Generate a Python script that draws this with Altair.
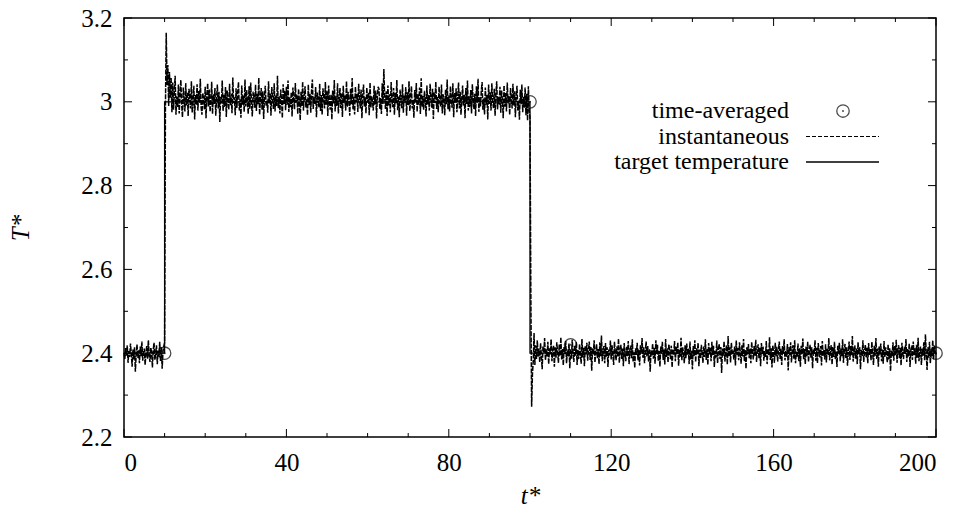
import altair as alt
import pandas as pd

FONT = "Liberation Serif"

# ---------------- data ----------------
# instantaneous temperature, sampled every 0.2 time units
seg1_start = 0.0
seg1_T = [
    2.401, 2.386, 2.412, 2.394, 2.419, 2.377, 2.405, 2.391, 2.423, 2.398,
    2.368, 2.409, 2.385, 2.414, 2.356, 2.397, 2.421, 2.389, 2.407, 2.376,
    2.416, 2.393, 2.428, 2.382, 2.404, 2.411, 2.372, 2.399, 2.418, 2.387,
    2.431, 2.395, 2.379, 2.413, 2.402, 2.366, 2.408, 2.425, 2.384, 2.397,
    2.419, 2.374, 2.406, 2.392, 2.427, 2.381, 2.414, 2.363, 2.403, 2.417,
]
seg2_start = 10.0
seg2_T = [
    2.425, 2.980, 3.165, 3.040, 3.088, 2.990, 3.071, 3.010, 3.058, 2.975,
    3.046, 2.981, 3.027, 3.062, 2.969, 3.013, 2.988, 3.041, 2.972, 3.019,
    3.052, 2.994, 2.963, 3.034, 3.008, 2.977, 3.045, 2.991, 3.023, 2.966,
    3.031, 3.011, 2.984, 3.049, 2.974, 3.003, 3.038, 2.958, 3.016, 2.993,
    3.042, 2.979, 3.026, 2.998, 3.055, 2.986, 2.969, 3.021, 3.007, 2.982,
    3.036, 2.961, 3.014, 3.044, 2.989, 3.029, 2.976, 3.002, 3.048, 2.971,
    3.018, 2.995, 3.033, 2.967, 3.009, 3.041, 2.984, 3.024, 2.952, 3.012,
    2.996, 3.051, 2.978, 3.017, 2.988, 3.035, 2.964, 3.027, 3.005, 2.981,
    3.043, 2.992, 3.019, 2.973, 3.058, 2.997, 3.011, 2.968, 3.032, 2.985,
    3.022, 3.047, 2.979, 3.006, 2.962, 3.039, 2.993, 3.015, 2.976, 3.053,
    2.989, 3.028, 3.001, 2.971, 3.037, 2.983, 3.046, 2.997, 2.965, 3.024,
    3.012, 2.986, 3.041, 2.978, 3.019, 2.994, 3.057, 2.969, 3.008, 3.033,
    2.981, 3.025, 2.959, 3.014, 3.038, 2.991, 3.003, 2.974, 3.049, 2.996,
    3.021, 2.967, 3.035, 3.009, 2.983, 3.044, 2.977, 3.016, 2.990, 3.062,
    2.985, 3.013, 2.972, 3.029, 3.004, 2.961, 3.042, 2.995, 3.026, 2.980,
    3.036, 2.993, 3.051, 2.976, 3.011, 2.987, 3.023, 2.965, 3.034, 3.007,
    2.982, 3.045, 2.998, 3.017, 2.971, 3.031, 3.002, 2.956, 3.024, 2.989,
    3.048, 2.979, 3.014, 3.037, 2.986, 3.006, 2.968, 3.041, 2.992, 3.019,
    2.974, 3.028, 3.053, 2.983, 3.011, 2.995, 3.035, 2.963, 3.022, 3.004,
    2.987, 3.043, 2.978, 3.016, 2.969, 3.032, 3.009, 2.984, 3.047, 2.993,
    3.025, 2.966, 3.039, 3.001, 2.981, 3.018, 2.958, 3.027, 2.996, 3.052,
    2.977, 3.013, 2.990, 3.044, 2.972, 3.008, 3.033, 2.985, 3.021, 2.964,
    3.038, 2.997, 3.015, 2.979, 3.049, 2.988, 3.024, 3.003, 2.967, 3.031,
    2.994, 3.057, 2.982, 3.012, 2.970, 3.036, 2.999, 3.019, 2.976, 3.043,
    3.006, 2.984, 3.029, 2.961, 3.017, 3.041, 2.989, 3.011, 2.973, 3.034,
    2.998, 3.022, 2.968, 3.046, 2.986, 3.014, 3.001, 2.979, 3.038, 2.993,
    3.027, 2.960, 3.016, 3.036, 3.031, 2.982, 3.009, 2.971, 3.044, 2.995,
    3.078, 3.012, 2.983, 3.025, 2.966, 3.039, 2.991, 3.018, 2.975, 3.047,
    3.004, 2.987, 3.033, 2.969, 3.021, 2.996, 3.052, 2.980, 3.013, 2.963,
    3.029, 3.007, 2.985, 3.042, 2.974, 3.016, 2.998, 3.035, 2.967, 3.023,
    2.992, 3.049, 2.978, 3.011, 3.037, 2.984, 3.005, 2.962, 3.028, 2.999,
    3.045, 2.976, 3.019, 2.993, 3.034, 2.971, 3.056, 2.988, 3.014, 2.981,
    3.026, 3.003, 2.965, 3.039, 2.994, 3.017, 2.979, 3.043, 3.008, 2.986,
    3.031, 2.959, 3.022, 2.997, 3.048, 2.983, 3.012, 2.975, 3.036, 3.001,
    2.989, 3.041, 2.972, 3.018, 3.006, 2.968, 3.029, 2.994, 3.053, 2.982,
    3.015, 2.977, 3.037, 3.002, 2.986, 3.044, 2.963, 3.021, 2.998, 3.032,
    2.975, 3.011, 3.046, 2.984, 3.024, 2.969, 3.007, 3.039, 2.991, 3.017,
    2.961, 3.033, 2.995, 3.051, 2.979, 3.013, 2.987, 3.028, 2.972, 3.042,
    3.004, 2.983, 3.019, 2.966, 3.037, 2.998, 3.055, 2.976, 3.011, 2.989,
    3.026, 3.047, 2.981, 3.008, 2.970, 3.034, 2.993, 3.016, 2.958, 3.041,
    2.995, 3.023, 2.979, 3.044, 3.002, 2.985, 3.031, 2.967, 3.018, 3.049,
    2.982, 3.012, 2.993, 3.036, 2.974, 3.027, 3.005, 2.961, 3.039, 2.988,
    3.021, 2.977, 3.046, 2.996, 3.014, 2.969, 3.033, 3.008, 2.984, 3.043,
    2.991, 3.025, 2.963, 3.017, 3.038, 2.979, 3.003, 2.957, 3.029, 2.994,
    3.041, 2.975, 3.012, 2.986, 3.034, 2.968, 3.019, 2.955, 3.037, 2.981,
]
seg3_start = 100.0
seg3_T = [
    2.962, 2.550, 2.272, 2.350, 2.381, 2.448, 2.372, 2.419, 2.386, 2.431,
    2.392, 2.411, 2.378, 2.424, 2.395, 2.362, 2.417, 2.401, 2.436, 2.383,
    2.409, 2.391, 2.427, 2.374, 2.412, 2.397, 2.433, 2.381, 2.406, 2.418,
    2.368, 2.414, 2.389, 2.426, 2.402, 2.377, 2.421, 2.393, 2.438, 2.385,
    2.410, 2.371, 2.416, 2.398, 2.429, 2.376, 2.405, 2.392, 2.423, 2.364,
    2.411, 2.387, 2.432, 2.399, 2.379, 2.419, 2.394, 2.427, 2.372, 2.408,
    2.386, 2.422, 2.401, 2.375, 2.434, 2.390, 2.413, 2.369, 2.418, 2.397,
    2.425, 2.382, 2.407, 2.428, 2.384, 2.415, 2.358, 2.412, 2.396, 2.431,
    2.378, 2.404, 2.421, 2.388, 2.410, 2.374, 2.426, 2.393, 2.442, 2.381,
    2.403, 2.417, 2.376, 2.424, 2.391, 2.414, 2.367, 2.409, 2.395, 2.430,
    2.385, 2.419, 2.398, 2.372, 2.427, 2.402, 2.383, 2.416, 2.391, 2.435,
    2.377, 2.408, 2.420, 2.386, 2.411, 2.369, 2.424, 2.399, 2.381, 2.415,
    2.393, 2.429, 2.374, 2.406, 2.418, 2.388, 2.433, 2.379, 2.402, 2.365,
    2.412, 2.396, 2.425, 2.383, 2.409, 2.371, 2.419, 2.401, 2.436, 2.389,
    2.414, 2.376, 2.403, 2.428, 2.392, 2.417, 2.380, 2.411, 2.356, 2.407,
    2.394, 2.423, 2.387, 2.413, 2.375, 2.431, 2.398, 2.420, 2.382, 2.405,
    2.368, 2.416, 2.399, 2.427, 2.384, 2.409, 2.373, 2.434, 2.391, 2.412,
    2.378, 2.421, 2.404, 2.386, 2.418, 2.366, 2.410, 2.395, 2.429, 2.381,
    2.415, 2.397, 2.426, 2.370, 2.408, 2.392, 2.437, 2.383, 2.414, 2.401,
    2.376, 2.419, 2.388, 2.423, 2.396, 2.411, 2.374, 2.428, 2.385, 2.406,
    2.362, 2.417, 2.393, 2.431, 2.379, 2.412, 2.398, 2.425, 2.369, 2.409,
    2.387, 2.420, 2.402, 2.377, 2.416, 2.391, 2.433, 2.384, 2.410, 2.372,
    2.424, 2.397, 2.413, 2.381, 2.427, 2.395, 2.418, 2.367, 2.405, 2.389,
    2.430, 2.376, 2.409, 2.422, 2.386, 2.415, 2.353, 2.411, 2.394, 2.428,
    2.380, 2.403, 2.419, 2.373, 2.441, 2.392, 2.414, 2.378, 2.425, 2.398,
    2.406, 2.385, 2.417, 2.371, 2.430, 2.396, 2.412, 2.383, 2.426, 2.401,
    2.375, 2.419, 2.392, 2.434, 2.381, 2.408, 2.363, 2.414, 2.397, 2.422,
    2.388, 2.411, 2.376, 2.427, 2.403, 2.385, 2.418, 2.394, 2.432, 2.379,
    2.409, 2.421, 2.387, 2.413, 2.369, 2.424, 2.398, 2.416, 2.382, 2.405,
    2.391, 2.429, 2.374, 2.410, 2.396, 2.438, 2.384, 2.412, 2.366, 2.419,
    2.401, 2.377, 2.425, 2.393, 2.415, 2.380, 2.408, 2.428, 2.386, 2.411,
    2.372, 2.417, 2.399, 2.433, 2.383, 2.406, 2.391, 2.422, 2.359, 2.414,
    2.395, 2.426, 2.378, 2.409, 2.419, 2.387, 2.431, 2.376, 2.404, 2.392,
    2.423, 2.381, 2.412, 2.368, 2.418, 2.397, 2.435, 2.385, 2.410, 2.374,
    2.416, 2.393, 2.427, 2.379, 2.405, 2.420, 2.388, 2.414, 2.364, 2.409,
    2.398, 2.431, 2.382, 2.413, 2.376, 2.424, 2.401, 2.390, 2.417, 2.371,
    2.429, 2.394, 2.408, 2.385, 2.421, 2.378, 2.412, 2.396, 2.436, 2.383,
    2.407, 2.419, 2.373, 2.415, 2.391, 2.427, 2.386, 2.404, 2.367, 2.418,
    2.399, 2.425, 2.381, 2.411, 2.393, 2.433, 2.377, 2.409, 2.422, 2.388,
    2.414, 2.370, 2.406, 2.428, 2.384, 2.417, 2.395, 2.441, 2.380, 2.403,
    2.419, 2.387, 2.412, 2.374, 2.426, 2.398, 2.415, 2.362, 2.408, 2.392,
    2.431, 2.379, 2.405, 2.420, 2.389, 2.413, 2.376, 2.424, 2.396, 2.410,
    2.383, 2.427, 2.401, 2.372, 2.418, 2.394, 2.436, 2.386, 2.411, 2.368,
    2.416, 2.397, 2.423, 2.381, 2.409, 2.375, 2.429, 2.390, 2.414, 2.399,
    2.378, 2.421, 2.385, 2.412, 2.357, 2.406, 2.393, 2.426, 2.382, 2.417,
    2.395, 2.432, 2.377, 2.408, 2.419, 2.388, 2.413, 2.371, 2.425, 2.401,
    2.386, 2.415, 2.398, 2.434, 2.379, 2.410, 2.392, 2.423, 2.367, 2.407,
    2.418, 2.384, 2.428, 2.396, 2.412, 2.375, 2.420, 2.389, 2.437, 2.381,
    2.403, 2.416, 2.372, 2.411, 2.394, 2.426, 2.383, 2.445, 2.399, 2.360,
    2.414, 2.388, 2.427, 2.376, 2.409, 2.393, 2.431, 2.385, 2.418, 2.404,
    2.397,
]
sample_step = 0.2

# target temperature (step profile)
target_t = [0, 10, 10, 100, 100, 200]
target_T = [2.4, 2.4, 3.0, 3.0, 2.4, 2.4]

# time-averaged temperature
avg_t = [10, 100, 110, 200]
avg_T = [2.4, 3.0, 2.42, 2.4]

# axes
x_major = [0, 40, 80, 120, 160, 200]
x_minor = [10, 20, 30, 50, 60, 70, 90, 100, 110, 130, 140, 150, 170, 180, 190]
y_major = [2.2, 2.4, 2.6, 2.8, 3.0, 3.2]
y_minor = [2.3, 2.5, 2.7, 2.9, 3.1]

legend_labels = ["time-averaged", "instantaneous", "target temperature"]

# ---------------- tables ----------------
inst_rows = []
for start, seg in [(seg1_start, seg1_T), (seg2_start, seg2_T), (seg3_start, seg3_T)]:
    for i, v in enumerate(seg):
        inst_rows.append({"t": round(start + i * sample_step, 2), "T": v})
inst_df = pd.DataFrame(inst_rows)
target_df = pd.DataFrame({"t": target_t, "T": target_T, "i": list(range(len(target_t)))})
avg_df = pd.DataFrame({"t": avg_t, "T": avg_T})

W, H = 812, 419
FS = 25
LFS = 24
XS = alt.Scale(domain=[0, 200], nice=False, zero=False)
YS = alt.Scale(domain=[2.2, 3.2], nice=False, zero=False)

x_axis = alt.Axis(values=x_major, ticks=False, domain=False, grid=False,
                  labelFont=FONT, labelFontSize=FS, labelColor="black",
                  labelPadding=13, title="t*", titleFont=FONT, titleFontSize=FS,
                  titleFontStyle="italic", titleFontWeight="normal", titleColor="black",
                  titleX=W / 2, titleY=58, titleBaseline="middle")
y_axis = alt.Axis(values=y_major, format="~g", ticks=False, domain=False, grid=False,
                  labelFont=FONT, labelFontSize=FS, labelColor="black",
                  labelPadding=12, title="T*", titleFont=FONT, titleFontSize=FS,
                  titleFontStyle="italic", titleFontWeight="normal", titleColor="black",
                  titleX=-104, titleY=H / 2, titleBaseline="middle")

target = alt.Chart(target_df).mark_line(color="black", strokeWidth=1.3).encode(
    x=alt.X("t:Q", scale=XS, axis=x_axis),
    y=alt.Y("T:Q", scale=YS, axis=y_axis),
    order="i:Q",
)
inst = alt.Chart(inst_df).mark_line(color="black", strokeWidth=1.5, strokeDash=[5, 1.2]).encode(
    x=alt.X("t:Q", scale=XS),
    y=alt.Y("T:Q", scale=YS),
)
avg_c = alt.Chart(avg_df).mark_point(shape="circle", size=155, filled=False,
                                     color="black", strokeWidth=1.3).encode(
    x=alt.X("t:Q", scale=XS), y=alt.Y("T:Q", scale=YS))
avg_d = alt.Chart(avg_df).mark_point(shape="circle", size=4, filled=True,
                                     color="black").encode(
    x=alt.X("t:Q", scale=XS), y=alt.Y("T:Q", scale=YS))

# inward ticks on all four sides
def xticks(vals, length):
    d = pd.DataFrame({"v": vals})
    b = alt.Chart(d).mark_rule(color="black", strokeWidth=1).encode(
        x=alt.X("v:Q", scale=XS), y=alt.value(H), y2=alt.value(H - length))
    t = alt.Chart(d).mark_rule(color="black", strokeWidth=1).encode(
        x=alt.X("v:Q", scale=XS), y=alt.value(0), y2=alt.value(length))
    return [b, t]

def yticks(vals, length):
    d = pd.DataFrame({"v": vals})
    l = alt.Chart(d).mark_rule(color="black", strokeWidth=1).encode(
        y=alt.Y("v:Q", scale=YS), x=alt.value(0), x2=alt.value(length))
    r = alt.Chart(d).mark_rule(color="black", strokeWidth=1).encode(
        y=alt.Y("v:Q", scale=YS), x=alt.value(W), x2=alt.value(W - length))
    return [l, r]

tick_layers = xticks(x_major, 8) + xticks(x_minor, 4) + yticks(y_major, 8) + yticks(y_minor, 4)

# legend (top right, inside plot)
leg_text_x = 665
leg_rows_y = [93, 118.5, 144]
leg_sym_x = 719
leg_line_x = (682, 755)
leg_layers = []
for lab, ry in zip(legend_labels, leg_rows_y):
    leg_layers.append(
        alt.Chart(pd.DataFrame({"label": [lab]})).mark_text(
            align="right", baseline="middle", font=FONT, fontSize=LFS, color="black"
        ).encode(text="label:N", x=alt.value(leg_text_x), y=alt.value(ry))
    )
one = pd.DataFrame({"k": [0]})
leg_layers.append(alt.Chart(one).mark_point(shape="circle", size=155, filled=False, color="black",
                                            strokeWidth=1.3).encode(
    x=alt.value(leg_sym_x), y=alt.value(leg_rows_y[0])))
leg_layers.append(alt.Chart(one).mark_point(shape="circle", size=4, filled=True, color="black").encode(
    x=alt.value(leg_sym_x), y=alt.value(leg_rows_y[0])))
leg_layers.append(alt.Chart(one).mark_rule(color="black", strokeWidth=1, strokeDash=[4, 2]).encode(
    x=alt.value(leg_line_x[0]), x2=alt.value(leg_line_x[1]), y=alt.value(leg_rows_y[1])))
leg_layers.append(alt.Chart(one).mark_rule(color="black", strokeWidth=1.3).encode(
    x=alt.value(leg_line_x[0]), x2=alt.value(leg_line_x[1]), y=alt.value(leg_rows_y[2])))

chart = alt.layer(target, inst, avg_c, avg_d, *tick_layers, *leg_layers).properties(
    width=W, height=H,
    autosize=alt.AutoSizeParams(type="none"),
    padding={"left": 124, "top": 18, "right": 24, "bottom": 74},
    background="white",
).configure(font=FONT).configure_view(stroke="black", strokeWidth=1.5)

chart.save("out.html", embed_options={"renderer": "svg", "actions": False})
